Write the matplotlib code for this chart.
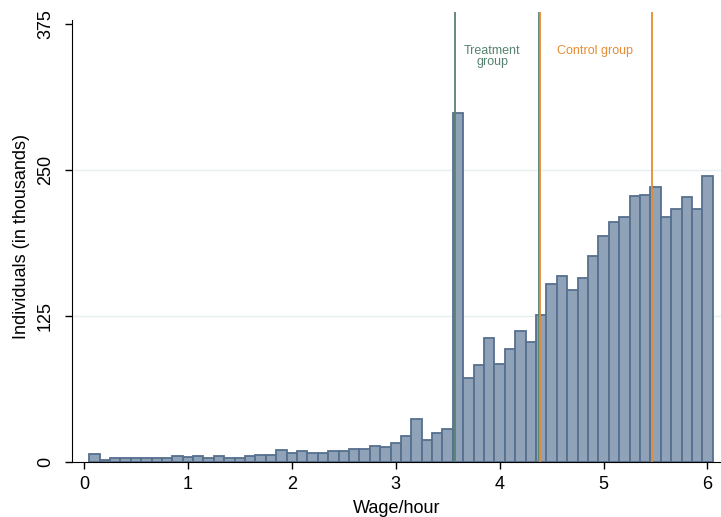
import matplotlib
matplotlib.use('agg')
import matplotlib.pyplot as plt

# wage bins (centres, width 0.1) and counts in thousands
wage = [round(0.1 * i, 1) for i in range(1, 61)]
counts = [
    6.5, 1.8, 3.2, 3.8, 3.8, 3.8, 3.8, 3.8, 4.8, 4.0,
    5.0, 3.5, 4.8, 3.8, 3.8, 5.5, 6.0, 5.8, 10.0, 8.0,
    9.5, 8.0, 8.0, 9.0, 9.0, 11.5, 11.0, 14.0, 12.5, 16.0,
    22.0, 37.0, 19.0, 25.0, 28.0, 299.0, 72.0, 83.0, 106.0, 84.0,
    97.0, 112.0, 102.5, 125.5, 152.0, 159.0, 147.0, 157.0, 176.0, 193.5,
    205.0, 209.5, 227.5, 228.0, 235.5, 210.0, 216.5, 227.0, 216.5, 245.0,
]
treat_lines = [3.57, 4.375]
control_lines = [4.385, 5.47]
xticks = [0, 1, 2, 3, 4, 5, 6]
yticks = [0, 125, 250, 375]

green = '#56826f'
orange = '#e58c34'

plt.rcParams['font.family'] = ['Liberation Sans', 'DejaVu Sans']

fig = plt.figure(figsize=(7.21, 5.17), dpi=100)
ax = fig.add_axes([0.0999, 0.1064, 0.9001, 0.8704])

ax.bar(wage, counts, width=0.1, color='#90a2b8', edgecolor='#56708f', linewidth=1.3, zorder=2)

for y in [125, 250]:
    ax.axhline(y, color='#e6f0f1', lw=1, zorder=1)

for x in treat_lines:
    ax.axvline(x, color=green, lw=1.3, zorder=3)
for x in control_lines:
    ax.axvline(x, color=orange, lw=1.3, zorder=3)

ax.text(3.93, 347, 'Treatment\ngroup', color=green, fontsize=9, ha='center', va='center',
        linespacing=0.95)
ax.text(4.92, 351.5, 'Control group', color=orange, fontsize=9, ha='center', va='center')

ax.set_xlim(-0.115, 6.13)
ax.set_ylim(0, 385)
ax.set_xticks(xticks)
ax.set_yticks(yticks)
ax.set_yticklabels([str(v) for v in yticks], rotation=90, va='center')
ax.tick_params(labelsize=13, length=5, width=1)
ax.tick_params(axis='x', pad=5)
ax.tick_params(axis='y', pad=8)

ax.spines['top'].set_visible(False)
ax.spines['right'].set_visible(False)
ax.spines['left'].set_bounds(0, 378)

ax.set_xlabel('Wage/hour', fontsize=13, labelpad=5)
ax.set_ylabel('Individuals (in thousands)', fontsize=13, labelpad=5)

fig.savefig('out.png', dpi=100)
